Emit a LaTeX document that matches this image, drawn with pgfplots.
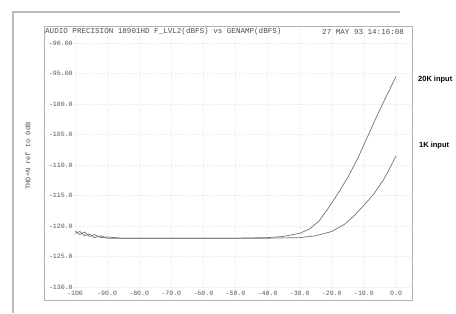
\documentclass[border=0pt]{standalone}
\usepackage{pgfplots}
\pgfplotsset{compat=1.18}
\usepackage{fontspec}
\setmainfont{Liberation Sans}
\newfontfamily\plotfont{Liberation Mono}

\pgfplotstableread{
x y
-100 -120.8
-98.5 -121.4
-97 -121.0
-95.5 -121.7
-94 -121.4
-92 -121.9
-90 -121.8
-85 -122.0
-80 -122.0
-70 -122.0
-60 -122.0
-50 -122.0
-40 -121.9
-35 -121.7
-30 -121.2
-27 -120.5
-24 -119.2
-21 -117.0
-18 -114.6
-15 -112.0
-12 -109.0
-9 -105.5
-6 -102.0
-3 -98.7
0 -95.5
}\twentyk

\pgfplotstableread{
x y
-100 -121.2
-98.5 -120.9
-97 -121.6
-95.5 -121.3
-94 -121.9
-92 -121.6
-90 -122.0
-85 -122.0
-80 -122.0
-70 -122.0
-60 -122.0
-50 -122.0
-40 -122.0
-30 -121.9
-25 -121.6
-20 -120.9
-16 -119.7
-13 -118.3
-10 -116.6
-7 -114.8
-4 -112.5
-2 -110.6
0 -108.5
}\onek

\begin{document}
\begin{tikzpicture}[x=1bp,y=1bp]
% outer scan frame
\draw[gray!55, line width=1.6bp] (13,0) -- (13,301) -- (400,301);
\begin{axis}[
  at={(44bp,13bp)}, anchor=south west,
  scale only axis, width=368bp, height=274bp,
  xmin=-109.66, xmax=4.98, ymin=-132.13, ymax=-87.21,
  xtick={-100,-90,-80,-70,-60,-50,-40,-30,-20,-10,0},
  xticklabels={-100,-90.0,-80.0,-70.0,-60.0,-50.0,-40.0,-30.0,-20.0,-10.0,0.0},
  ytick={-130,-125,-120,-115,-110,-105,-100,-95,-90},
  yticklabels={-130.0,-125.0,-120.0,-115.0,-110.0,-105.0,-100.0,-95.00,-90.00},
  xticklabel style={anchor=south, yshift=0.5bp, font=\plotfont\fontsize{6.6}{7}\selectfont, text=black!65},
  yticklabel style={anchor=west, xshift=1.5bp, font=\plotfont\fontsize{6.6}{7}\selectfont, text=black!65},
  major tick length=0pt,
  axis line style={gray!60, line width=0.8bp},
  grid=major, grid style={gray!12, densely dotted},
]
\addplot[draw=black!55, line width=0.7bp] table[x=x,y=y]{\twentyk};
\addplot[draw=black!55, line width=0.7bp] table[x=x,y=y]{\onek};
\end{axis}
\node[anchor=west, font=\plotfont\fontsize{7.6}{9}\selectfont, text=black!70, inner sep=0] at (45,281) {AUDIO PRECISION 18901HD F\_LVL2(dBFS) vs GENAMP(dBFS)};
\node[anchor=west, font=\plotfont\fontsize{7.6}{9}\selectfont, text=black!70, inner sep=0] at (322,281) {27 MAY 93 14:16:08};
\node[rotate=90, font=\plotfont\fontsize{7}{8}\selectfont, text=black!70, inner sep=0] at (28,157) {THD+N ref to 0dB};
\node[anchor=west, font=\bfseries\fontsize{7.5}{9}\selectfont, inner sep=0] at (418,233) {20K input};
\node[anchor=west, font=\bfseries\fontsize{7.5}{9}\selectfont, inner sep=0] at (419,167) {1K input};
\pgfresetboundingbox
\useasboundingbox (0,0) rectangle (456,313);
\end{tikzpicture}
\end{document}
